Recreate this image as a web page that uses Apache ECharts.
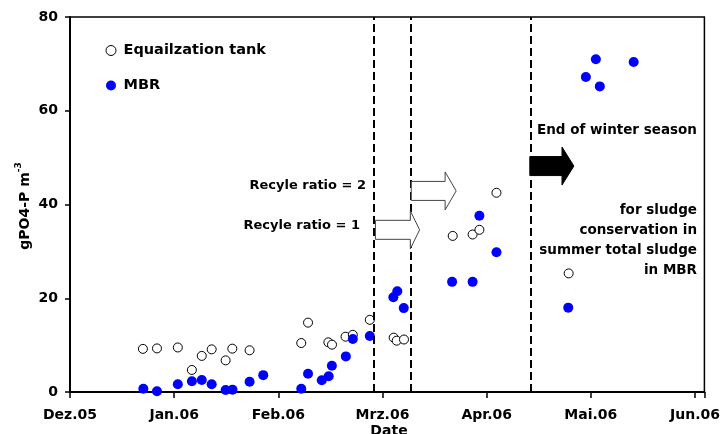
<!DOCTYPE html>
<html><head><meta charset="utf-8">
<script src="https://cdn.jsdelivr.net/npm/echarts@6/dist/echarts.min.js"></script>
<style>html,body{margin:0;padding:0;background:#fff}#c{width:723px;height:434px}</style>
</head><body><div id="c"></div>
<script>
// x values are in months counted from Dez.05 (tick 0)
const monthLabels = ['Dez.05','Jan.06','Feb.06','Mrz.06','Apr.06','Mai.06','Jun.06'];
const yTicks = [0, 20, 40, 60, 80];
const eqTank = [
  [0.70, 9.2], [0.835, 9.3], [1.035, 9.5], [1.17, 4.7], [1.265, 7.7], [1.36, 9.1],
  [1.494, 6.75], [1.558, 9.25], [1.724, 8.9], [2.22, 10.45], [2.285, 14.8], [2.48, 10.6],
  [2.515, 10.1], [2.645, 11.8], [2.715, 12.2], [2.878, 15.4], [3.107, 11.6], [3.136, 10.95],
  [3.206, 11.2], [3.674, 33.3], [3.865, 33.6], [3.93, 34.6], [4.094, 42.5], [4.787, 25.3]
];
const mbr = [
  [0.704, 0.7], [0.835, 0.15], [1.035, 1.64], [1.17, 2.28], [1.265, 2.56], [1.36, 1.64],
  [1.494, 0.43], [1.56, 0.5], [1.724, 2.2], [1.855, 3.6], [2.22, 0.7], [2.285, 3.9],
  [2.417, 2.5], [2.483, 3.35], [2.514, 5.6], [2.648, 7.6], [2.715, 11.3], [2.878, 11.95],
  [3.104, 20.2], [3.142, 21.5], [3.204, 17.9], [3.668, 23.5], [3.865, 23.5], [3.93, 37.6],
  [4.094, 29.8], [4.783, 18.0], [4.952, 67.2], [5.048, 71.0], [5.086, 65.2], [5.411, 70.4]
];
const phaseLines = [2.925, 3.266, 4.42];
// [start, head base, tip, y]
const hollowArrows = [[2.932, 3.267, 3.356, 34.6], [3.276, 3.601, 3.707, 42.9]];
const solidArrows = [[4.414, 4.723, 4.837, 48.2]];

const FONT = 'DejaVu Sans';
function arrowRender(fill, stroke) {
  return function (params, api) {
    const y = api.value(3);
    const p0 = api.coord([api.value(0), y]);
    const pb = api.coord([api.value(1), y]);
    const pt = api.coord([api.value(2), y]);
    const bh = 9.5, hh = 19, cy = p0[1];
    return {
      type: 'polygon',
      shape: { points: [[p0[0], cy - bh], [pb[0], cy - bh], [pb[0], cy - hh], [pt[0], cy],
        [pb[0], cy + hh], [pb[0], cy + bh], [p0[0], cy + bh]] },
      style: { fill: fill, stroke: stroke, lineWidth: 1 }
    };
  };
}

const chart = echarts.init(document.getElementById('c'));
chart.setOption({
  animation: false,
  backgroundColor: '#fff',
  grid: { left: 70, right: 16, top: 17, bottom: 42, show: true, borderColor: '#000', borderWidth: 1.5, backgroundColor: 'transparent' },
  legend: {
    orient: 'vertical', left: 100.5, top: 38, itemWidth: 15, itemHeight: 10, itemGap: 20,
    data: ['Equailzation tank', 'MBR'],
    itemStyle: { borderWidth: 1 },
    textStyle: { fontFamily: FONT, fontWeight: 'bold', fontSize: 14.5, color: '#000' }
  },
  xAxis: {
    type: 'value', min: 0, max: 6.09, interval: 1,
    axisLine: { lineStyle: { color: '#000', width: 2 } },
    axisTick: { show: true, inside: false, length: 6, lineStyle: { color: '#000', width: 1.5 } },
    splitLine: { show: false },
    axisLabel: { margin: 16, fontFamily: FONT, fontWeight: 'bold', fontSize: 14, color: '#000',
      formatter: v => monthLabels[Math.round(v)] !== undefined && Math.abs(v - Math.round(v)) < 1e-6 ? monthLabels[Math.round(v)] : '' }
  },
  yAxis: {
    type: 'value', min: yTicks[0], max: yTicks[yTicks.length - 1], interval: 20,
    axisLine: { show: true, lineStyle: { color: '#000', width: 2 } },
    axisTick: { show: true, inside: false, length: 5, lineStyle: { color: '#000', width: 1.5 } },
    splitLine: { show: false },
    axisLabel: { margin: 12, fontFamily: FONT, fontWeight: 'bold', fontSize: 14, color: '#000' }
  },
  graphic: [
    { type: 'text', x: 25, y: 206, rotation: Math.PI / 2,
      style: { text: '{a|gPO4-P m}{s|-3}', align: 'center', verticalAlign: 'middle',
        rich: { a: { fontFamily: FONT, fontWeight: 'bold', fontSize: 14, fill: '#000' },
                s: { fontFamily: FONT, fontWeight: 'bold', fontSize: 9, fill: '#000', padding: [0, 0, 12, 0] } } } },
    { type: 'text', x: 389, y: 431, style: { text: 'Date', align: 'center', verticalAlign: 'middle',
      fontFamily: FONT, fontWeight: 'bold', fontSize: 14, fill: '#000' } },
    { type: 'text', x: 366, y: 186, style: { text: 'Recyle ratio = 2', align: 'right', verticalAlign: 'middle',
      fontFamily: FONT, fontWeight: 'bold', fontSize: 13, fill: '#000' } },
    { type: 'text', x: 360, y: 226, style: { text: 'Recyle ratio = 1', align: 'right', verticalAlign: 'middle',
      fontFamily: FONT, fontWeight: 'bold', fontSize: 13, fill: '#000' } },
    { type: 'text', x: 537, y: 130, style: { text: 'End of winter season', align: 'left', verticalAlign: 'middle',
      fontFamily: FONT, fontWeight: 'bold', fontSize: 13.5, fill: '#000' } },
    { type: 'text', x: 697, y: 200.5, style: { text: 'for sludge\nconservation in\nsummer total sludge\nin MBR',
      align: 'right', verticalAlign: 'top', lineHeight: 20,
      fontFamily: FONT, fontWeight: 'bold', fontSize: 13.5, fill: '#000' } }
  ],
  series: [
    {
      name: 'Equailzation tank', type: 'scatter', data: eqTank, symbol: 'circle', symbolSize: 9,
      itemStyle: { color: '#fff', borderColor: '#000', borderWidth: 1, opacity: 1 },
      markLine: {
        silent: true, symbol: ['none', 'none'], label: { show: false },
        lineStyle: { color: '#000', width: 2, type: [8, 4], opacity: 1 },
        data: phaseLines.map(x => ({ xAxis: x }))
      },
      z: 3
    },
    {
      name: 'MBR', type: 'scatter', data: mbr, symbol: 'circle', symbolSize: 10,
      itemStyle: { color: '#0000ff', opacity: 1 }, z: 4
    },
    { type: 'custom', renderItem: arrowRender('#fff', '#444'), data: hollowArrows,
      encode: { x: [0, 1, 2], y: 3 }, silent: true, z: 5 },
    { type: 'custom', renderItem: arrowRender('#000', '#000'), data: solidArrows,
      encode: { x: [0, 1, 2], y: 3 }, silent: true, z: 5 }
  ]
});
</script></body></html>
